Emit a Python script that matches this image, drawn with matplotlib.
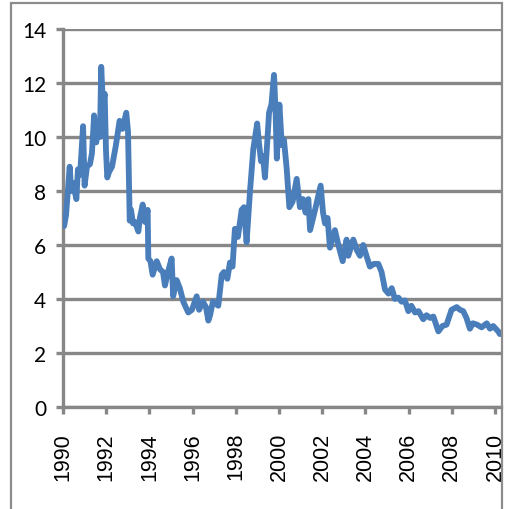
import matplotlib.pyplot as plt
from matplotlib.patches import Rectangle

# readings taken off the reference chart (fractional year, value)
years = [1990.05, 1990.14, 1990.31, 1990.38, 1990.46, 1990.62, 1990.69, 1990.79, 1990.93, 1991.00,
         1991.11, 1991.25, 1991.34, 1991.44, 1991.54, 1991.64, 1991.71, 1991.77, 1991.85, 1991.93,
         1991.99, 1992.05, 1992.13, 1992.27, 1992.45, 1992.62, 1992.75, 1992.93, 1993.01, 1993.09,
         1993.15, 1993.24, 1993.33, 1993.49, 1993.56, 1993.69, 1993.80, 1993.92, 1993.95, 1994.05,
         1994.15, 1994.34, 1994.49, 1994.63, 1994.72, 1994.86, 1995.03, 1995.10, 1995.26, 1995.41,
         1995.57, 1995.80, 1995.97, 1996.19, 1996.30, 1996.48, 1996.62, 1996.73, 1996.81, 1996.94,
         1997.19, 1997.35, 1997.45, 1997.61, 1997.73, 1997.85, 1997.96, 1998.10, 1998.27, 1998.38,
         1998.50, 1998.66, 1998.81, 1998.99, 1999.07, 1999.17, 1999.26, 1999.35, 1999.44, 1999.54,
         1999.65, 1999.77, 1999.84, 1999.90, 2000.02, 2000.13, 2000.23, 2000.36, 2000.48, 2000.63,
         2000.82, 2000.97, 2001.11, 2001.23, 2001.36, 2001.44, 2001.67, 2001.93, 2002.04, 2002.13,
         2002.25, 2002.36, 2002.59, 2002.75, 2002.95, 2003.13, 2003.21, 2003.44, 2003.61, 2003.75,
         2003.90, 2004.05, 2004.21, 2004.40, 2004.60, 2004.75, 2004.91, 2005.07, 2005.22, 2005.37,
         2005.53, 2005.68, 2005.83, 2005.99, 2006.13, 2006.30, 2006.46, 2006.68, 2006.83, 2006.99,
         2007.15, 2007.38, 2007.57, 2007.76, 2007.99, 2008.23, 2008.38, 2008.53, 2008.68, 2008.84,
         2008.98, 2009.17, 2009.38, 2009.62, 2009.77, 2009.92, 2010.15, 2010.23]
values = [6.7, 7.1, 8.9, 8.0, 8.3, 7.7, 8.8, 8.6, 10.4, 8.2,
          8.9, 9.0, 9.4, 10.8, 9.8, 10.6, 10.0, 12.6, 11.2, 11.6,
          9.5, 8.5, 8.7, 8.9, 9.7, 10.6, 10.3, 10.9, 10.2, 6.9,
          7.3, 6.8, 6.85, 6.5, 7.0, 7.5, 6.85, 7.3, 5.5, 5.4,
          4.9, 5.4, 5.1, 5.0, 4.5, 5.0, 5.5, 4.1, 4.7, 4.4,
          3.9, 3.5, 3.6, 4.1, 3.6, 3.9, 3.7, 3.2, 3.4, 3.9,
          3.75, 4.9, 5.0, 4.75, 5.35, 5.2, 6.6, 6.3, 7.3, 7.4,
          6.1, 8.0, 9.55, 10.5, 9.8, 9.1, 9.3, 8.5, 9.6, 10.9,
          11.2, 12.3, 11.0, 9.2, 11.2, 9.7, 9.9, 8.8, 7.4, 7.6,
          8.45, 7.4, 7.7, 7.2, 7.7, 6.55, 7.3, 8.2, 7.2, 6.8,
          7.0, 5.9, 6.55, 6.0, 5.4, 6.2, 5.6, 6.2, 5.8, 5.6,
          6.0, 5.6, 5.2, 5.3, 5.3, 5.0, 4.35, 4.2, 4.4, 4.0,
          4.05, 3.9, 3.95, 3.55, 3.75, 3.5, 3.55, 3.25, 3.4, 3.3,
          3.35, 2.8, 3.0, 3.05, 3.6, 3.7, 3.6, 3.55, 3.3, 2.9,
          3.1, 3.05, 2.95, 3.1, 2.9, 3.0, 2.8, 2.7]

xticks = list(range(1990, 2011, 2))
yticks = list(range(0, 15, 2))

grey = '#878787'

fig = plt.figure(figsize=(5.07, 5.10), dpi=100)
ax = fig.add_axes([63 / 507, 1 - 408 / 510, 438 / 507, 378 / 510])

# outer chart frame
fig.patches.append(Rectangle((11 / 507, -0.02), 491 / 507, 1.013, transform=fig.transFigure,
                             fill=False, edgecolor='#8c8c8c', linewidth=1.6))

ax.plot(years, values, color='#4a7ebb', linewidth=4.2, solid_joinstyle='round',
        solid_capstyle='round', zorder=3)

ax.set_xlim(1990, 2010.28)
ax.set_ylim(0, 14)
ax.set_yticks(yticks)
ax.set_xticks(xticks)
ax.set_xticklabels([str(t) for t in xticks], rotation=90, fontsize=15.5,
                   fontfamily='Liberation Sans')
ax.set_yticklabels([str(t) for t in yticks], fontsize=15, fontfamily='Lato')

ax.grid(axis='y', color=grey, linewidth=2.4)
ax.set_axisbelow(True)
for side in ['top', 'right']:
    ax.spines[side].set_visible(False)
for side in ['left', 'bottom']:
    ax.spines[side].set_color(grey)
    ax.spines[side].set_linewidth(2.4)

ax.tick_params(axis='y', length=5, width=2.4, color=grey, pad=7)
ax.tick_params(axis='x', length=5, width=2.4, color=grey, pad=13)

fig.savefig('out.png', dpi=100)
